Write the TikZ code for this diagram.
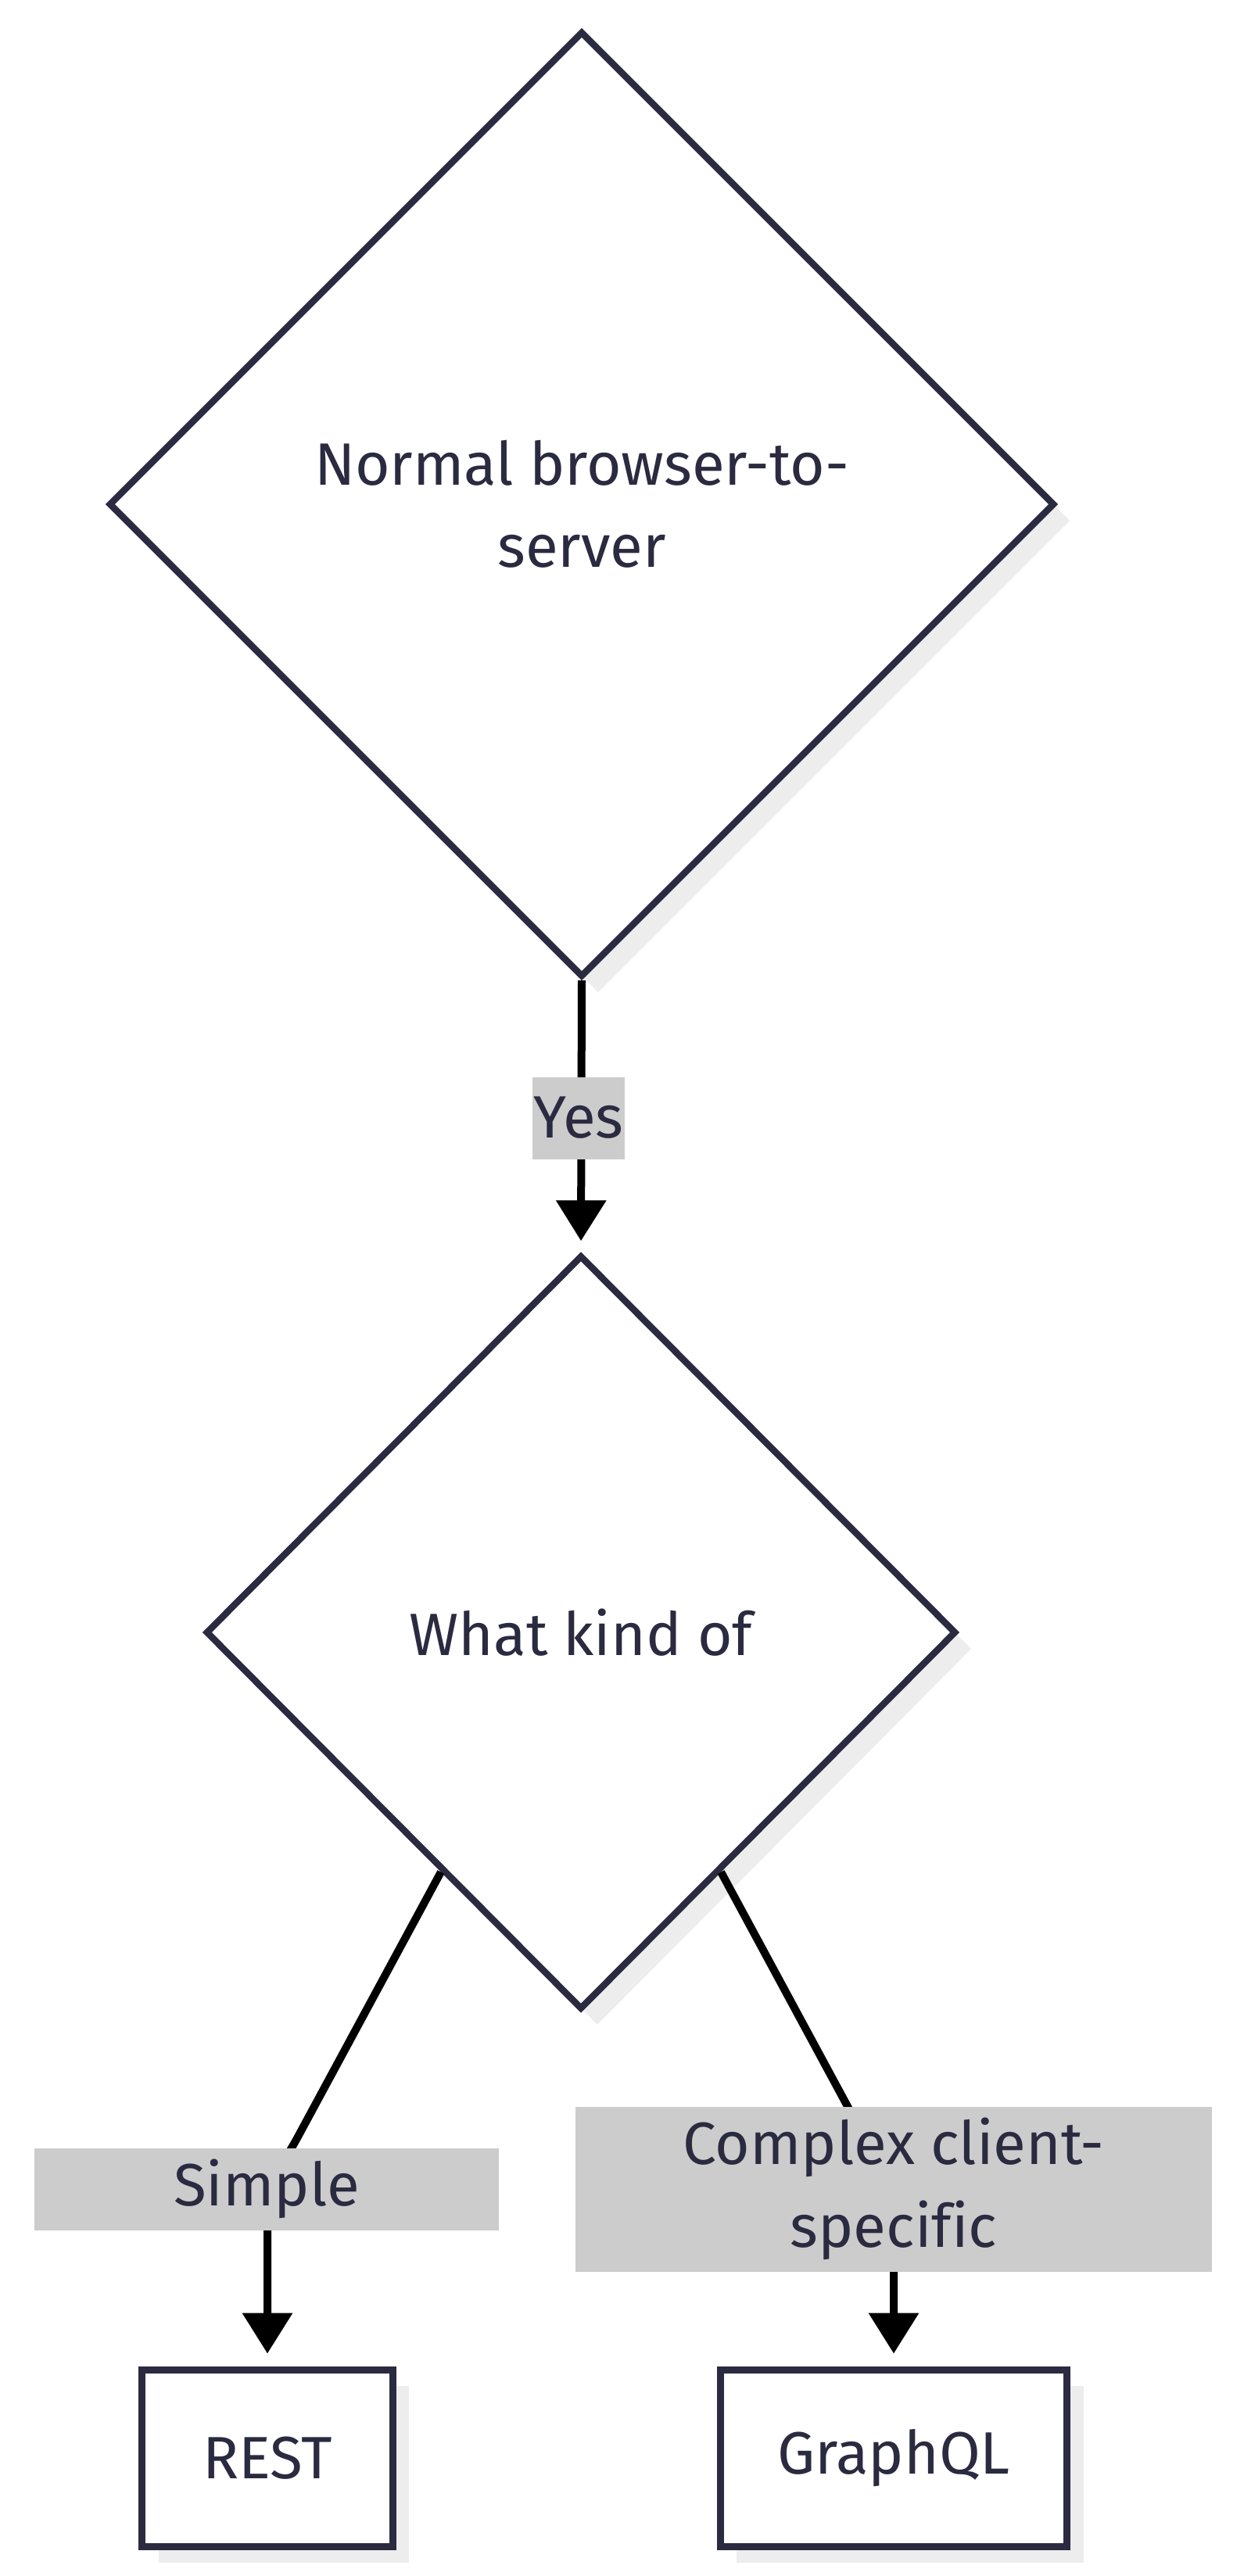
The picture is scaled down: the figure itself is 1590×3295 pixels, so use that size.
\documentclass[tikz,border=0pt]{standalone}
\usepackage{fontspec}
\setmainfont{Fira Sans}[Ligatures=NoCommon]
\usetikzlibrary{shapes.geometric,arrows.meta,shadows,calc}
\definecolor{ink}{HTML}{2A2A40}
\definecolor{lblgray}{HTML}{CCCCCC}
\definecolor{shade}{HTML}{EDEDED}
\begin{document}
\begin{tikzpicture}[x=0.02cm, y=-0.02cm, line join=miter,
	font=\fontsize{43.5}{60}\selectfont,
	decision/.style={diamond, aspect=1, draw=ink, text=ink, line width=0.17cm, fill=white, inner sep=0pt, align=center,
		drop shadow={shadow xshift=0.42cm, shadow yshift=-0.42cm, fill=shade, opacity=1}},
	endbox/.style={rectangle, draw=ink, text=ink, line width=0.18cm, fill=white, minimum height=4.52cm, align=center,
		drop shadow={shadow xshift=0.42cm, shadow yshift=-0.42cm, fill=shade, opacity=1}},
	lbl/.style={fill=lblgray, text=ink, inner sep=0pt, minimum height=2.1cm, align=center},
	edge/.style={line width=0.2cm, draw=black, -{Triangle[length=1.04cm, width=1.24cm]}}]
	\useasboundingbox (0,0) rectangle (1590,3295);
	% decisions
	\node[decision, minimum width=24.2cm, minimum height=24.2cm] (normal) at (744,645) {Normal browser-to-\\server};
	\node[decision, minimum width=19.2cm, minimum height=19.3cm] (kind) at (743,2088) {What kind of};
	% results
	\node[endbox, minimum width=6.42cm] (rest) at (342,3144) {REST};
	\node[endbox, minimum width=8.88cm] (graphql) at (1143,3144) {GraphQL};
	% edges
	\coordinate (sstart) at ($(kind.west)!0.63!(kind.south)$);
	\coordinate (cstart) at ($(kind.east)!0.63!(kind.south)$);
	\draw[edge, shorten >=0.28cm] (normal.south) -- (kind.north);
	\draw[edge, shorten >=0.32cm] (sstart) -- (380,2735) .. controls (366,2761) and (342,2790) .. (342,2850) -- (rest.north);
	\draw[edge, shorten >=0.32cm] (cstart) -- (1106,2735) .. controls (1120,2761) and (1143,2790) .. (1143,2850) -- (graphql.north);
	% labels
	\node[lbl, minimum width=2.38cm] (yes) at (740,1430) {Yes};
	\node[lbl, minimum width=11.9cm] (simple) at (341,2800) {Simple};
	\node[lbl, minimum width=16.3cm, minimum height=4.22cm] (complex) at (1143,2800) {Complex client-\\specific};
\end{tikzpicture}
\end{document}
